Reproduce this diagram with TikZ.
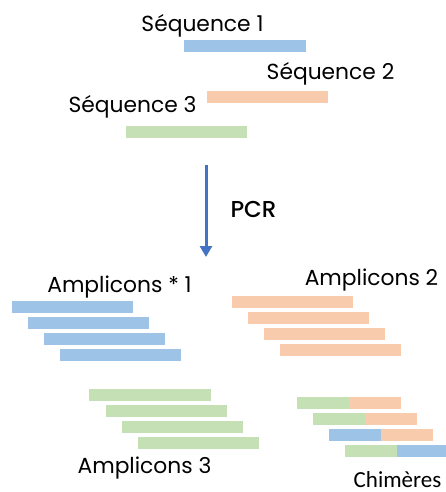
\documentclass[tikz,border=0pt]{standalone}
\usepackage{fontspec}
\setmainfont{Poppins}
\newfontfamily\chimfont{Carlito}
\newfontfamily\pcrfont{Poppins Medium}
\usetikzlibrary{arrows.meta}
\definecolor{seqblue}{HTML}{9DC3E6}
\definecolor{seqorange}{HTML}{F8CBAD}
\definecolor{seqgreen}{HTML}{C5E0B4}
\definecolor{arrowblue}{HTML}{4472C4}
\tikzset{
  lbl/.style={anchor=base, inner sep=0pt, font=\fontsize{21.8}{26}\selectfont},
  bar/.style={inner sep=0pt, minimum height=12pt, anchor=north west},
}
% one strand: name, colour, left x, top y, width
\newcommand\strand[5]{\node[bar, fill=#2, minimum width=#5pt] (#1) at (#3,#4) {};}
\begin{document}
\begin{tikzpicture}[x=1pt,y=-1pt]
\useasboundingbox (0,0) rectangle (446,492);

% input sequences
\node[lbl] (t1) at (202.5,32) {Séquence 1};
\strand{s1}{seqblue}{184}{40}{122}
\node[lbl] (t2) at (330.5,80) {Séquence 2};
\strand{s2}{seqorange}{207}{91}{121}
\node[lbl] (t3) at (132.5,113) {Séquence 3};
\strand{s3}{seqgreen}{126}{126}{121}

% amplification step
\coordinate (pcrtop) at (206,165);
\coordinate (pcrbot) at (206,257);
\draw[arrowblue, line width=3pt, -{Triangle[width=12pt,length=11pt]}] (pcrtop) -- (pcrbot);
\node[lbl, font=\pcrfont\fontsize{23}{26}\selectfont] (pcr) at (253.5,217) {PCR};

% amplicons of sequence 1
\node[lbl] (a1) at (119.5,292) {Amplicons * 1};
\strand{a1r1}{seqblue}{12}{301}{121}
\strand{a1r2}{seqblue}{28}{317}{121}
\strand{a1r3}{seqblue}{44}{333}{121}
\strand{a1r4}{seqblue}{60}{349}{121}

% amplicons of sequence 2
\node[lbl] (a2) at (371.5,285) {Amplicons 2};
\strand{a2r1}{seqorange}{232}{296}{121}
\strand{a2r2}{seqorange}{248}{312}{121}
\strand{a2r3}{seqorange}{264}{328}{121}
\strand{a2r4}{seqorange}{280}{344}{121}

% amplicons of sequence 3
\strand{a3r1}{seqgreen}{89}{389}{122}
\strand{a3r2}{seqgreen}{106}{405}{121}
\strand{a3r3}{seqgreen}{122}{421}{121}
\strand{a3r4}{seqgreen}{138}{437}{121}
\node[lbl] (a3) at (144.5,473) {Amplicons 3};

% chimeric products
\strand{c1a}{seqgreen}{297}{397}{52}
\strand{c1b}{seqorange}{349}{397}{52}
\strand{c2a}{seqgreen}{313}{413}{52}
\strand{c2b}{seqorange}{365}{413}{52}
\strand{c3a}{seqblue}{329}{429}{52}
\strand{c3b}{seqorange}{381}{429}{52}
\strand{c4a}{seqgreen}{345}{445}{52}
\strand{c4b}{seqblue}{397}{445}{52}
\node[lbl, font=\chimfont\fontsize{23}{26}\selectfont] (ch) at (397.5,487.5) {Chimères};
\end{tikzpicture}
\end{document}
